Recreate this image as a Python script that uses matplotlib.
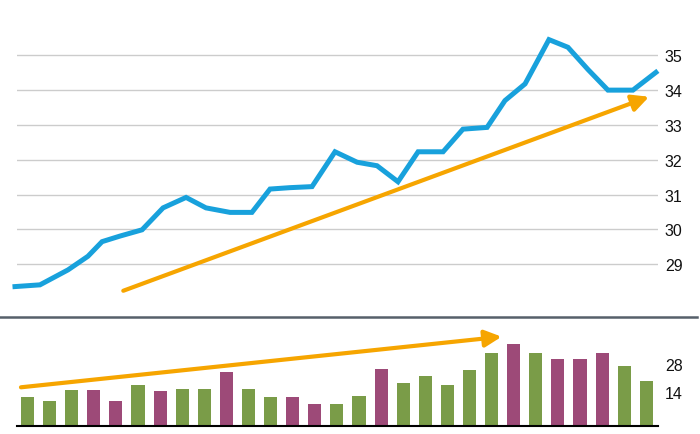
import matplotlib
matplotlib.use("Agg")
import matplotlib.pyplot as plt
import matplotlib.transforms as mtransforms
from matplotlib.lines import Line2D

plt.rcParams["font.family"] = ["Liberation Sans", "DejaVu Sans"]

# price line (x in trading-day units)
price_x = [0, 1.13, 2.4, 3.3, 3.94, 4.75, 5.75, 6.7, 7.74, 8.64, 9.73, 10.72,
           11.54, 12.44, 13.44, 14.48, 15.48, 16.38, 17.33, 18.24, 19.37, 20.27,
           21.36, 22.17, 23.08, 24.16, 25.02, 25.93, 26.83, 27.96, 29.0]
price = [28.36, 28.41, 28.84, 29.23, 29.65, 29.81, 29.99, 30.62, 30.92, 30.62,
         30.49, 30.49, 31.16, 31.20, 31.23, 32.23, 31.93, 31.83, 31.37, 32.23,
         32.23, 32.88, 32.93, 33.70, 34.18, 35.45, 35.23, 34.59, 34.00, 34.00, 34.51]

# volume bars
volume = [14.7, 12.7, 18.2, 18.2, 12.7, 20.7, 17.7, 18.7, 18.7, 27.2, 18.7, 14.7,
          14.7, 11.2, 11.2, 15.2, 28.7, 21.7, 25.2, 20.7, 28.2, 36.7, 41.2, 36.7,
          33.7, 33.7, 36.7, 30.2, 22.7]
direction = ["up", "up", "up", "down", "down", "up", "down", "up", "up", "down",
             "up", "up", "down", "down", "up", "up", "down", "up", "up", "up",
             "up", "up", "down", "up", "down", "down", "down", "up", "up"]

price_ticks = [29, 30, 31, 32, 33, 34, 35]
volume_ticks = [14, 28]

# trend arrows (start, end)
price_trend = [(4.9, 28.24), (28.69, 33.81)]
volume_trend = [(0.27, 19.5), (22.02, 44.8)]

BLUE = "#18a1dc"
ORANGE = "#f6a500"
GREEN = "#7a9c48"
PURPLE = "#9d4a78"
colors = {"up": GREEN, "down": PURPLE}

fig = plt.figure(figsize=(7, 4.35), dpi=100)
W, H = 700, 435

def px_axes(left, top, right, bottom):
    return fig.add_axes([left / W, 1 - bottom / H, (right - left) / W, (bottom - top) / H])

xlim = ((17 - 15) / 22.1, (658 - 15) / 22.1)

# --- price panel ---
ax = px_axes(17, 30, 658, 305)
ax.set_xlim(*xlim)
ax.set_ylim(27.86, 35.755)
ax.set_yticks(price_ticks)
ax.yaxis.tick_right()
ax.tick_params(axis="y", length=0, pad=5, labelsize=11.5, labelcolor="#111111")
ax.set_xticks([])
ax.grid(axis="y", color="#cccccc", lw=1)
ax.set_axisbelow(True)
for s in ax.spines.values():
    s.set_visible(False)
ax.plot(price_x, price, color=BLUE, lw=3.6, solid_joinstyle="miter", clip_on=False, zorder=3)
ax.annotate("", xy=price_trend[1], xytext=price_trend[0],
            arrowprops=dict(arrowstyle="-|>,head_length=1.0,head_width=0.5",
                            mutation_scale=10, color=ORANGE, lw=3,
                            shrinkA=0, shrinkB=0), zorder=4)

# --- volume panel ---
bx = px_axes(17, 330, 658, 427.3)
bx.set_xlim(*xlim)
bx.set_ylim(0, 48.65)
bar_x = [i + 0.565 for i in range(len(volume))]
bx.bar(bar_x, volume, width=0.59, color=[colors[d] for d in direction])
bx.set_yticks(volume_ticks)
bx.yaxis.tick_right()
bx.tick_params(axis="y", length=0, pad=5, labelsize=11.5, labelcolor="#111111")
bx.set_xticks([])
for k, s in bx.spines.items():
    s.set_visible(k == "bottom")
bx.spines["bottom"].set_color("black")
bx.spines["bottom"].set_linewidth(1.5)
shift = mtransforms.ScaledTranslation(0, 6.5 / 100, fig.dpi_scale_trans)
for lab in bx.get_yticklabels():
    lab.set_transform(lab.get_transform() + shift)
bx.annotate("", xy=volume_trend[1], xytext=volume_trend[0],
            arrowprops=dict(arrowstyle="-|>,head_length=1.0,head_width=0.5",
                            mutation_scale=10, color=ORANGE, lw=3,
                            shrinkA=0, shrinkB=0), zorder=4)

# separator between panels
fig.add_artist(Line2D([0, 697 / W], [1 - 318.3 / H] * 2, color="#56606a", lw=1.8))

fig.savefig("out.png", dpi=100)
